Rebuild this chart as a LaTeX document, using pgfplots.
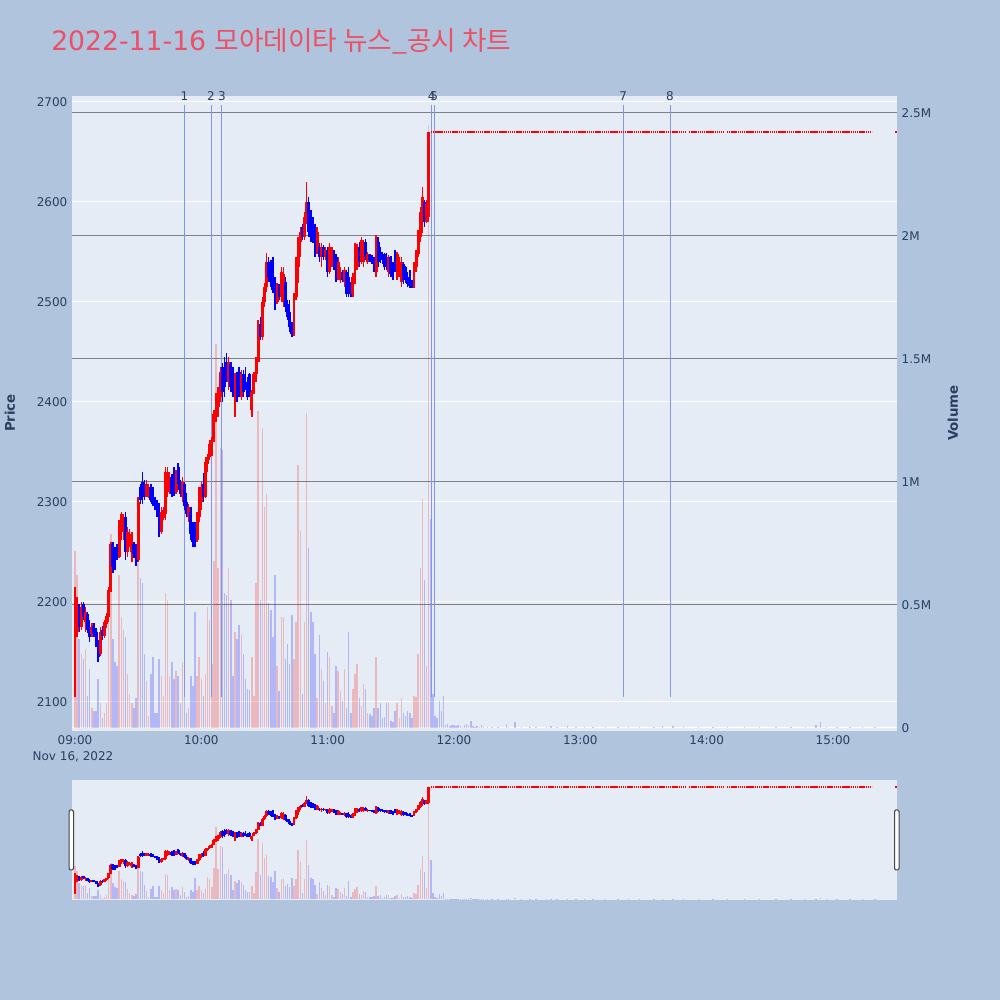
\documentclass[border=0pt]{standalone}
\usepackage{pgfplots}
\pgfplotsset{compat=1.18}
\usepackage{pgfplotstable}
\usepackage{fontspec}
\setmainfont{DejaVu Sans}
\newfontfamily\kr{Noto Sans CJK KR}
\definecolor{pagebg}{RGB}{176,196,222}
\definecolor{plotbg}{RGB}{229,236,246}
\definecolor{fontc}{RGB}{42,63,95}
\definecolor{newsc}{RGB}{130,150,240}
\definecolor{titlec}{RGB}{235,80,100}
\definecolor{vgrid}{RGB}{128,128,128}

% minute from 09:00, open, high, low, close, volume
\pgfplotstableread{
m o h l c v
0 2105 2215 2105 2170 720000
1 2170 2205 2165 2195 620000
2 2195 2198 2170 2175 360000
3 2175 2200 2172 2195 300000
4 2198 2200 2182 2185 280000
5 2180 2195 2170 2190 320000
6 2188 2190 2169 2172 130000
7 2175 2182 2160 2165 240000
8 2168 2179 2165 2175 80000
9 2176 2179 2165 2168 70000
10 2170 2174 2155 2158 70000
11 2160 2162 2140 2145 200000
12 2148 2175 2146 2170 100000
13 2172 2176 2162 2166 40000
14 2166 2182 2164 2180 60000
15 2178 2189 2174 2186 100000
16 2185 2215 2180 2212 550000
17 2212 2260 2210 2258 790000
18 2258 2260 2229 2235 360000
19 2248 2255 2232 2238 270000
20 2250 2258 2242 2245 250000
21 2245 2282 2244 2278 620000
22 2276 2290 2262 2288 450000
23 2270 2288 2262 2282 400000
24 2285 2290 2242 2250 370000
25 2250 2275 2245 2270 220000
26 2258 2273 2255 2268 140000
27 2250 2270 2240 2262 100000
28 2258 2260 2244 2248 80000
29 2256 2258 2236 2240 120000
30 2242 2305 2240 2300 670000
31 2315 2318 2298 2302 610000
32 2320 2330 2298 2305 590000
33 2318 2322 2302 2305 300000
34 2305 2322 2305 2318 190000
35 2306 2318 2304 2315 50000
36 2315 2318 2300 2302 220000
37 2306 2315 2296 2298 290000
38 2300 2305 2292 2295 60000
39 2298 2302 2285 2288 60000
40 2290 2299 2265 2270 280000
41 2270 2295 2268 2290 210000
42 2284 2295 2282 2292 130000
43 2288 2335 2282 2330 550000
44 2310 2335 2305 2330 520000
45 2312 2330 2308 2325 210000
46 2325 2328 2305 2308 270000
47 2325 2335 2306 2310 200000
48 2310 2332 2308 2330 230000
49 2335 2339 2312 2318 210000
50 2320 2322 2305 2308 100000
51 2305 2325 2300 2320 270000
52 2318 2320 2292 2296 150000
53 2300 2309 2285 2288 60000
54 2285 2298 2280 2295 80000
55 2290 2295 2262 2268 210000
56 2272 2280 2255 2260 170000
57 2275 2280 2255 2262 470000
58 2262 2290 2260 2285 210000
59 2285 2315 2280 2310 290000
60 2300 2320 2292 2315 200000
61 2318 2329 2300 2305 130000
62 2305 2345 2304 2340 220000
63 2338 2348 2330 2345 490000
64 2345 2362 2342 2358 440000
65 2350 2365 2346 2362 260000
66 2362 2392 2360 2388 680000
67 2388 2409 2380 2405 1560000
68 2395 2415 2385 2410 650000
69 2405 2435 2400 2430 1140000
70 2435 2439 2400 2410 1130000
71 2425 2445 2405 2415 550000
72 2440 2449 2420 2425 540000
73 2420 2445 2412 2440 650000
74 2438 2440 2410 2415 520000
75 2418 2435 2405 2410 210000
76 2390 2429 2385 2425 390000
77 2425 2430 2400 2405 360000
78 2430 2435 2405 2410 420000
79 2405 2432 2402 2428 380000
80 2428 2432 2405 2410 300000
81 2418 2435 2412 2415 200000
82 2420 2425 2402 2405 160000
83 2428 2429 2405 2408 155000
84 2392 2412 2385 2410 290000
85 2410 2430 2408 2428 130000
86 2428 2445 2420 2440 590000
87 2440 2482 2440 2475 1290000
88 2478 2485 2462 2465 520000
89 2465 2505 2462 2500 1220000
90 2500 2519 2495 2515 900000
91 2515 2549 2510 2540 950000
92 2540 2545 2520 2525 510000
93 2528 2542 2515 2520 480000
94 2525 2545 2509 2512 370000
95 2512 2525 2492 2500 620000
96 2500 2519 2498 2515 250000
97 2515 2518 2502 2505 150000
98 2505 2535 2500 2530 450000
99 2500 2535 2495 2528 450000
100 2520 2525 2490 2495 280000
101 2498 2502 2482 2485 340000
102 2490 2502 2470 2475 260000
103 2478 2480 2465 2468 460000
104 2468 2509 2466 2505 280000
105 2505 2545 2502 2540 430000
106 2535 2565 2519 2560 1070000
107 2560 2575 2545 2570 800000
108 2575 2578 2562 2565 140000
109 2565 2590 2562 2585 430000
110 2585 2620 2578 2600 1280000
111 2600 2605 2565 2570 730000
112 2590 2592 2560 2565 470000
113 2580 2585 2559 2562 430000
114 2575 2578 2545 2548 300000
115 2550 2575 2548 2570 120000
116 2555 2559 2540 2545 380000
117 2545 2559 2535 2555 240000
118 2555 2557 2542 2545 190000
119 2545 2555 2542 2552 100000
120 2552 2555 2525 2530 310000
121 2530 2559 2528 2555 290000
122 2540 2555 2535 2550 90000
123 2550 2552 2532 2540 60000
124 2545 2548 2520 2525 250000
125 2525 2545 2522 2540 230000
126 2522 2535 2519 2530 150000
127 2530 2532 2520 2522 110000
128 2520 2535 2515 2532 240000
129 2530 2532 2505 2508 80000
130 2525 2535 2505 2510 390000
131 2515 2520 2505 2508 60000
132 2508 2529 2505 2525 160000
133 2520 2559 2518 2552 220000
134 2535 2558 2532 2555 260000
135 2555 2560 2535 2540 120000
136 2540 2565 2538 2562 90000
137 2540 2562 2535 2558 180000
138 2560 2563 2542 2545 160000
139 2540 2550 2538 2548 60000
140 2547 2548 2540 2542 55000
141 2545 2547 2538 2540 50000
142 2540 2545 2530 2535 80000
143 2530 2567 2525 2560 290000
144 2560 2565 2535 2540 80000
145 2550 2555 2539 2542 100000
146 2548 2550 2538 2545 40000
147 2548 2549 2532 2535 45000
148 2545 2549 2532 2538 100000
149 2530 2547 2525 2545 100000
150 2545 2546 2525 2528 30000
151 2535 2540 2522 2525 25000
152 2540 2552 2530 2535 70000
153 2525 2550 2522 2548 100000
154 2530 2545 2525 2540 40000
155 2520 2545 2515 2540 120000
156 2538 2540 2518 2522 60000
157 2535 2536 2519 2522 50000
158 2525 2530 2515 2518 70000
159 2520 2532 2514 2516 60000
160 2518 2522 2514 2515 40000
161 2515 2540 2514 2535 130000
162 2535 2552 2530 2548 125000
163 2548 2572 2545 2565 300000
164 2565 2595 2560 2590 650000
165 2590 2615 2569 2605 930000
166 2600 2602 2575 2580 600000
167 2580 2602 2579 2598 250000
168 2585 2670 2580 2670 2450000
169 2670 2670 2670 2670 850000
170 2670 2670 2670 2670 140000
171 2670 2670 2670 2670 50000
172 2670 2670 2670 2670 40000
173 2670 2670 2670 2670 110000
174 2670 2670 2670 2670 70000
175 2670 2670 2670 2670 130000
}\candles

% volume after the price reached the upper limit (2670)
\pgfplotstableread{
m v
176 12000
177 15000
178 10000
179 14000
180 12000
181 8000
182 14000
183 10000
184 6000
185 12000
186 15000
187 8000
188 30000
189 8000
190 6000
191 10000
192 6000
193 12000
194 5000
196 4000
198 6000
201 3000
205 16000
206 4000
209 24000
212 3000
216 3000
219 4000
224 4000
226 10000
229 6000
234 8000
238 3000
242 4000
246 4000
252 3000
258 4000
263 6000
268 5000
275 4000
279 10000
284 10000
289 3000
296 3000
303 4000
310 3000
318 3000
325 3000
333 3000
340 3000
347 4000
352 12000
354 26000
357 4000
362 3000
368 3000
374 3000
380 3000
}\postvol

% flat candles at the upper limit
\pgfplotstableread{
m p
169 2670
282.5 2670
283 nan
283.6 2670
290 2670
290.8 nan
291.6 2670
308 2670
308.8 nan
309.6 2670
378.5 2670
379 nan
389.5 2670
390.3 2670
}\limitup

% news / disclosure times
\pgfplotstableread{
n m
1 52
2 64.6
3 69.8
4 169.4
5 170.6
7 260.3
8 282.6
}\news

\pgfplotsset{
  common/.style={scale only axis, anchor=south west, width=618.75pt,
    xmin=-1.42, xmax=390.4,
    axis line style={draw=none},
    major tick style={draw=none}, minor tick style={draw=none},
    tick label style={font=\fontsize{9}{10}\selectfont, text=fontc},
    scaled y ticks=false, scaled x ticks=false,
    colormap={updown}{color=(blue) color=(red)},
    point meta min=0, point meta max=1},
  pricey/.style={ymin=2071, ymax=2706},
  voly/.style={ymin=-12200, ymax=2569100},
}

\newcommand\volumeplots{%
  \addplot[quiver={u=0,v=\thisrow{v},colored=mapped color},
    point meta={ifthenelse(\thisrow{c}>\thisrow{o},1,0)},
    line width=1.1pt, draw opacity=0.22] table[x=m, y expr=0]{\candles};
  \addplot[quiver={u=0,v=\thisrow{v}}, draw=blue, line width=1.1pt,
    draw opacity=0.22] table[x=m, y expr=0]{\postvol};
}
\newcommand\candleplots{%
  \addplot[red, line width=1.5pt, dash pattern=on 1.1pt off 0.5pt,
    unbounded coords=jump] table[x=m,y=p]{\limitup};
  \addplot[quiver={u=0,v=\thisrow{h}-\thisrow{l},colored=mapped color},
    point meta={ifthenelse(\thisrow{c}>\thisrow{o},1,0)},
    line width=1.1pt] table[x=m,y=l]{\candles};
  \addplot[quiver={u=0,v=\thisrow{c}-\thisrow{o},colored=mapped color},
    point meta={ifthenelse(\thisrow{c}>\thisrow{o},1,0)},
    line width=2.2pt] table[x=m,y=o]{\candles};
}

\begin{document}
\begin{tikzpicture}[x=0.75pt,y=0.75pt]
\useasboundingbox (0,0) rectangle (1000,1000);
\fill[pagebg] (0,0) rectangle (1000,1000);

% ---------- main panel: price grid and labels ----------
\begin{axis}[common, pricey, at={(54pt,201.75pt)}, height=476.25pt,
  axis background/.style={fill=plotbg},
  ytick={2100,2200,2300,2400,2500,2600,2700},
  yticklabels={2100,2200,2300,2400,2500,2600,2700},
  ymajorgrids, major grid style={white, line width=0.75pt},
  xtick={0,60,120,180,240,300,360},
  xticklabels={09:00,10:00,11:00,12:00,13:00,14:00,15:00}]
\end{axis}

% ---------- volume (right axis) ----------
\begin{axis}[common, voly, at={(54pt,201.75pt)}, height=476.25pt,
  xtick=\empty, yticklabel pos=right,
  ytick={500000,1000000,1500000,2000000,2500000},
  yticklabels={0.5M,1M,1.5M,2M,2.5M},
  extra y ticks={0}, extra y tick labels={0},
  extra y tick style={major grid style={white, line width=0.75pt}},
  ymajorgrids, major grid style={vgrid, line width=0.75pt}]
\volumeplots
\end{axis}

% ---------- candles ----------
\begin{axis}[common, pricey, at={(54pt,201.75pt)}, height=476.25pt,
  xtick=\empty, ytick=\empty, clip=false]
\addplot[quiver={u=0,v=592}, draw=newsc, line width=0.75pt]
  table[x=m, y expr=2105]{\news};
\candleplots
\addplot[only marks, mark=*, mark size=0pt, mark options={draw=none,fill=none},
  nodes near coords, point meta=explicit symbolic,
  nodes near coords style={anchor=center, inner sep=0pt,
    font=\fontsize{9}{10}\selectfont, text=fontc}]
  table[x=m, y expr=2705.5, meta=n]{\news};
\end{axis}

% ---------- range slider ----------
\begin{axis}[common, voly, at={(54pt,75pt)}, height=90pt,
  axis background/.style={fill=plotbg}, xtick=\empty, ytick=\empty]
\volumeplots
\end{axis}
\begin{axis}[common, pricey, at={(54pt,75pt)}, height=90pt,
  xtick=\empty, ytick=\empty]
\candleplots
\end{axis}
\draw[fill=white, draw={rgb,255:red,68;green,68;blue,68}, line width=0.75pt, rounded corners=1pt]
  (69,130) rectangle (73.5,190);
\draw[fill=white, draw={rgb,255:red,68;green,68;blue,68}, line width=0.75pt, rounded corners=1pt]
  (894.5,130) rectangle (899,190);

% ---------- texts ----------
\node[anchor=base west, inner sep=0pt, text=titlec,
  font=\fontsize{20}{24}\selectfont] at (51,949.5)
  {2022-11-16 {\kr 모아데이타 뉴스\_공시 차트}};
\node[rotate=90, text=fontc, font=\fontsize{10}{12}\selectfont\bfseries]
  at (10,587) {Price};
\node[rotate=90, text=fontc, font=\fontsize{10}{12}\selectfont\bfseries]
  at (953,587) {Volume};
\node[text=fontc, font=\fontsize{9}{10}\selectfont] at (73,243) {Nov 16, 2022};
\end{tikzpicture}
\end{document}
